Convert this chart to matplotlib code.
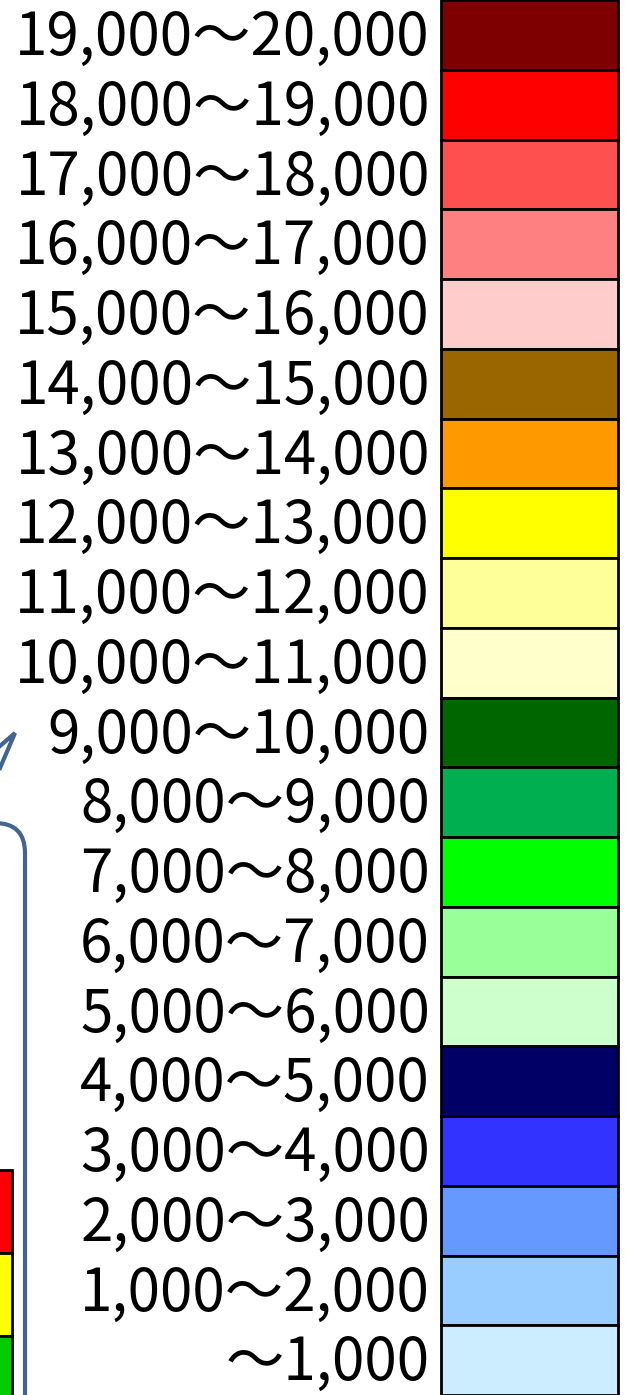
import matplotlib.pyplot as plt
from matplotlib.patches import FancyBboxPatch, Rectangle

plt.rcParams['font.family'] = ['Noto Sans CJK JP', 'DejaVu Sans']

# legend rows, top to bottom
labels = ["19,000～20,000", "18,000～19,000", "17,000～18,000", "16,000～17,000",
          "15,000～16,000", "14,000～15,000", "13,000～14,000", "12,000～13,000",
          "11,000～12,000", "10,000～11,000", "9,000～10,000", "8,000～9,000",
          "7,000～8,000", "6,000～7,000", "5,000～6,000", "4,000～5,000",
          "3,000～4,000", "2,000～3,000", "1,000～2,000", "～1,000"]
colors = ["#7F0000", "#FF0000", "#FF5050", "#FF8080", "#FFCCCC",
          "#996600", "#FF9900", "#FFFF00", "#FFFF99", "#FFFFCC",
          "#006600", "#00B050", "#00FF00", "#99FF99", "#CCFFCC",
          "#000066", "#3333FF", "#6699FF", "#99CCFF", "#CCECFF"]

# partial boxes cut off at the bottom left
side_colors = ["#FF0000", "#FFFF00", "#00CC00"]

W, H = 631, 1395
fig = plt.figure(figsize=(W / 100, H / 100), dpi=100)

# background axes in pixel units for the decorations
deco = fig.add_axes([0, 0, 1, 1])
deco.set_xlim(0, W)
deco.set_ylim(H, 0)
deco.axis("off")

ax = fig.add_axes([0, 0, 1, 1])
ax.set_xlim(0, W)
ax.set_ylim(len(labels), 0)
ax.axis("off")
ax.patch.set_alpha(0)

rows = list(range(len(labels)))
ax.barh([r + 0.5 for r in rows], [177] * len(rows), left=441, height=1.0,
        color=colors, edgecolor="black", linewidth=2)
for r, lab in zip(rows, labels):
    ax.text(430, r + 0.55, lab, ha="right", va="center", fontsize=42, color="black")

# callout outline on the left
line_c = "#41658F"
deco.add_patch(FancyBboxPatch((-200, 823), 225, 700,
                              boxstyle="round,pad=0,rounding_size=30",
                              fill=False, edgecolor=line_c, linewidth=3))
deco.plot([0, 15, 0], [746, 733, 768], color=line_c, linewidth=3,
          solid_joinstyle="miter")

# cut off colour blocks bottom left
tops = [1170, 1253, 1336]
for t, c in zip(tops, side_colors):
    deco.add_patch(Rectangle((-20, t), 32, 83, facecolor=c, edgecolor="black", linewidth=2))

fig.savefig("out.png", dpi=100)
